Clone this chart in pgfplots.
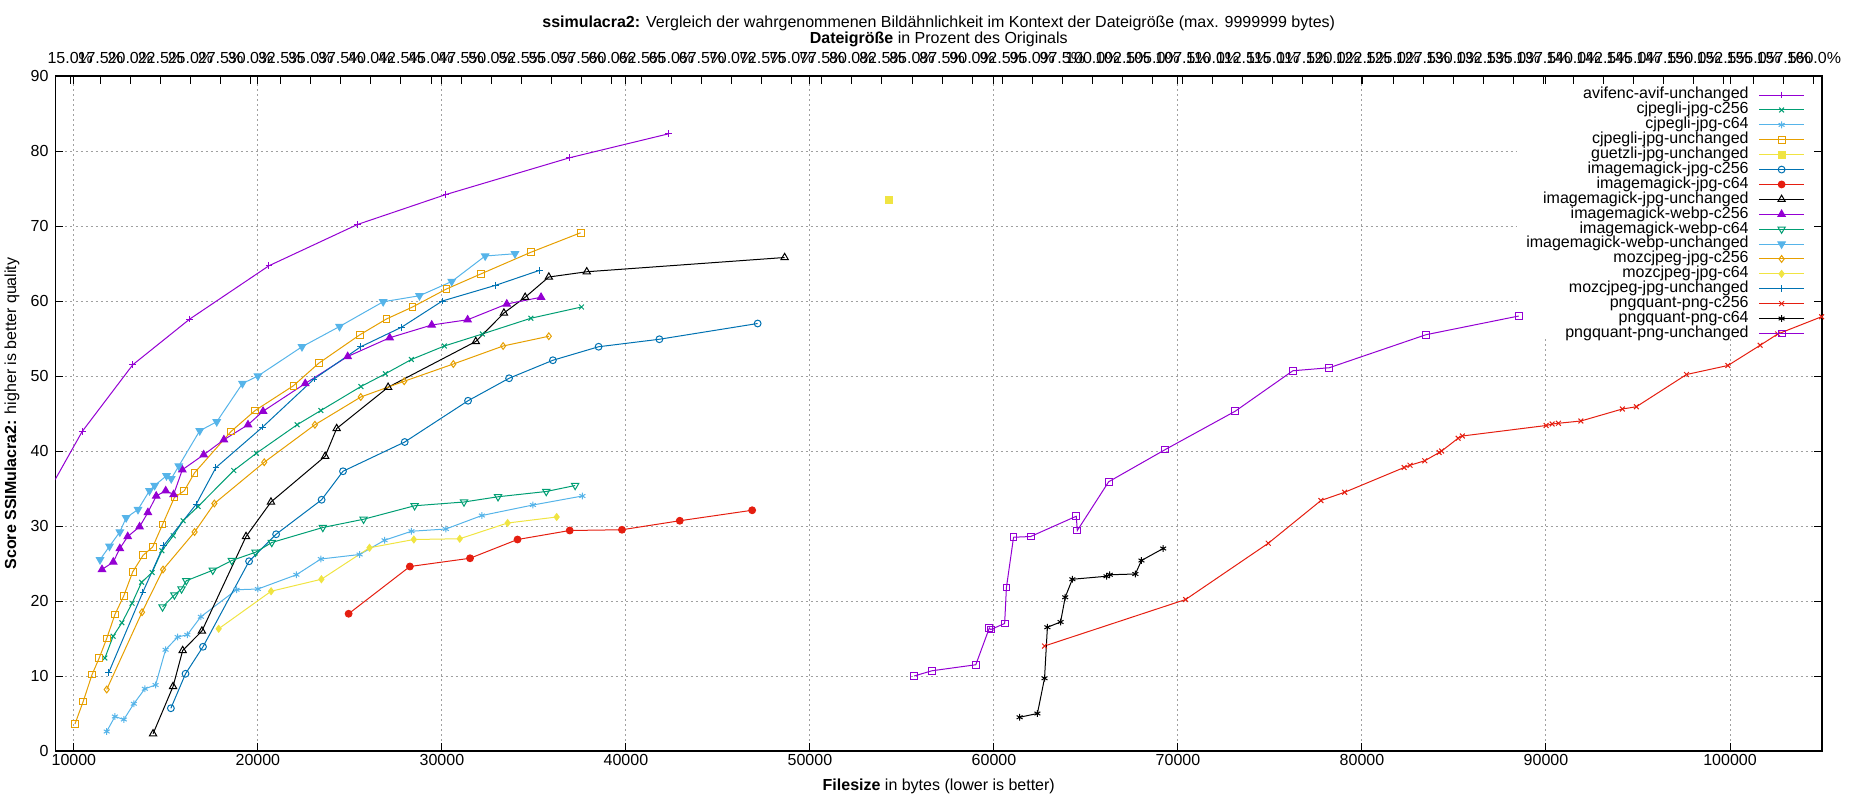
\documentclass[border=0pt]{standalone}
\usepackage{fontspec}
\setmainfont{Liberation Sans}
\usepackage{pgfplots}
\pgfplotsset{compat=1.18}
\definecolor{gpurple}{HTML}{9400D3}
\definecolor{ggreen}{HTML}{009E73}
\definecolor{gsky}{HTML}{56B4E9}
\definecolor{gorange}{HTML}{E69F00}
\definecolor{gyellow}{HTML}{F0E442}
\definecolor{gblue}{HTML}{0072B2}
\definecolor{gred}{HTML}{E51E10}
\definecolor{ggrid}{HTML}{A0A0A0}
\pgfplotsset{/pgf/number format/assume math mode=true}
\begin{document}
\begin{tikzpicture}[font=\fontsize{8}{9.6}\selectfont]
\begin{axis}[
  set layers,
  width=883.25pt, height=337.5pt, scale only axis,
  xmin=9000, xmax=105000, ymin=0, ymax=90,
  xtick={10000,20000,...,100000}, ytick={0,10,...,90},
  scaled x ticks=false,
  xticklabel style={/pgf/number format/.cd, fixed, 1000 sep={}, /tikz/.cd, yshift=2pt},
  tick align=inside, major tick length=4pt,
  tick style={black, line width=0.5pt},
  axis line style={line width=0.6pt},
  grid=major, grid style={dash pattern=on 1pt off 1.5pt, color=ggrid, line width=0.5pt},
  xlabel={\textbf{Filesize} in bytes (lower is better)},
  ylabel={\textbf{Score SSIMulacra2:} higher is better quality},
  xlabel style={at={(axis description cs:0.5,-0.0519)}, anchor=center},
  ylabel style={at={(axis description cs:-0.0246,0.5)}, anchor=center},
  every axis plot/.append style={line width=0.5pt, mark size=1.7pt, mark options={solid}},
  legend cell align=right, legend plot pos=right,
  legend image code/.code={\draw[mark repeat=2,mark phase=2,#1] plot coordinates {(0pt,0pt) (11.25pt,0pt) (22.5pt,0pt)};},
  legend style={at={(rel axis cs:1,1)}, anchor=north east, xshift=-8.5pt, yshift=-5.6pt,
    draw=none, fill=none, inner sep=0pt, row sep=0pt, column sep=5pt,
    nodes={inner sep=0pt, text height=5.65pt, text depth=1.8pt}},
]
\begin{pgfonlayer}{pre main}
\fill[white] (axis cs:88450,54.9) rectangle (axis cs:104560,88.9);
\end{pgfonlayer}
\addplot[gpurple, mark=+] coordinates {
 (8800,35.4) (10450,42.6) (13200,51.5) (16300,57.6) (20600,64.7) (25410,70.2)
 (30220,74.2) (36940,79.1) (42330,82.3)};
\addlegendentry{avifenc-avif-unchanged}
\addplot[ggreen, mark=x] coordinates {
 (11686,12.4) (12132,15.3) (12610,17.1) (13160,19.7) (13680,22.5) (14250,23.8)
 (14780,26.7) (15398,28.7) (15935,30.7) (16750,32.6) (18688,37.4) (19914,39.7)
 (22129,43.5) (23420,45.4) (25600,48.6) (26930,50.3) (28337,52.2) (30133,54.0)
 (32195,55.6) (34834,57.7) (37583,59.2)};
\addlegendentry{cjpegli-jpg-c256}
\addplot[gsky, mark=asterisk] coordinates {
 (11783,2.6) (12229,4.6) (12713,4.2) (13256,6.3) (13857,8.3) (14438,8.8)
 (14981,13.5) (15640,15.2) (16163,15.5) (16899,17.9) (18837,21.5) (20000,21.6)
 (22093,23.5) (23420,25.6) (25527,26.2) (26882,28.1) (28344,29.3) (30215,29.6)
 (32172,31.4) (34946,32.8) (37634,34.0)};
\addlegendentry{cjpegli-jpg-c64}
\addplot[gorange, mark=square] coordinates {
 (10058,3.6) (10504,6.6) (10988,10.2) (11376,12.4) (11783,15.0) (12229,18.2)
 (12713,20.7) (13198,23.9) (13763,26.1) (14280,27.2) (14817,30.2) (15462,33.8)
 (15999,34.7) (16559,37.1) (18538,42.6) (19849,45.4) (21929,48.7) (23304,51.7)
 (25543,55.5) (26984,57.6) (28404,59.2) (30244,61.6) (32106,63.6) (34834,66.5)
 (37539,69.1)};
\addlegendentry{cjpegli-jpg-unchanged}
\addplot[gyellow, mark=square*] coordinates {(54300,73.5)};
\addlegendentry{guetzli-jpg-unchanged}
\addplot[gblue, mark=o] coordinates {
 (15271,5.7) (16066,10.3) (17016,13.9) (19520,25.3) (20989,28.9) (23462,33.5)
 (24624,37.3) (27978,41.2) (31419,46.7) (33650,49.7) (36031,52.1) (38514,53.9)
 (41818,54.9) (47158,57.0)};
\addlegendentry{imagemagick-jpg-c256}
\addplot[gred, mark=*] coordinates {
 (24930,18.3) (28258,24.6) (31527,25.7) (34108,28.2) (36946,29.4) (39785,29.5)
 (42925,30.7) (46860,32.1)};
\addlegendentry{imagemagick-jpg-c64}
\addplot[black, mark=triangle, mark size=2.1pt] coordinates {
 (14302,2.3) (15388,8.6) (15911,13.4) (16957,16.0) (19355,28.6) (20710,33.2)
 (23656,39.3) (24280,43.0) (27075,48.5) (31840,54.6) (33370,58.4) (34523,60.5)
 (35809,63.2) (37871,63.9) (48624,65.8)};
\addlegendentry{imagemagick-jpg-unchanged}
\addplot[gpurple, mark=triangle*, mark size=2.1pt] coordinates {
 (11527,24.2) (12140,25.2) (12495,27.0) (12925,28.6) (13570,29.9) (14022,31.8)
 (14473,34.0) (14989,34.7) (15419,34.2) (15892,37.5) (17054,39.5) (18151,41.5)
 (19462,43.5) (20280,45.3) (22572,49.0) (24878,52.6) (27162,55.1) (29446,56.8)
 (31397,57.5) (33525,59.6) (35388,60.5)};
\addlegendentry{imagemagick-webp-c256}
\addplot[ggreen, mark=triangle, mark size=2.1pt, mark options={solid, rotate=180}] coordinates {
 (14817,19.2) (15462,20.8) (15849,21.6) (16107,22.7) (17548,24.1) (18581,25.4)
 (19871,26.5) (20753,27.8) (23527,29.8) (25742,30.9) (28516,32.7) (31200,33.2)
 (33050,33.9) (35670,34.6) (37240,35.4)};
\addlegendentry{imagemagick-webp-c64}
\addplot[gsky, mark=triangle*, mark size=2.1pt, mark options={solid, rotate=180}] coordinates {
 (11419,25.5) (11935,27.3) (12495,29.2) (12839,31.1) (13484,32.2) (14108,34.7)
 (14387,35.4) (15032,36.7) (15290,36.3) (15699,38.0) (16839,42.7) (17763,43.9)
 (19161,49.0) (20000,50.0) (22395,53.9) (24435,56.6) (26807,59.9) (28780,60.7)
 (30532,62.6) (32350,66.0) (33969,66.3)};
\addlegendentry{imagemagick-webp-unchanged}
\addplot[gorange, mark=diamond] coordinates {
 (11783,8.2) (13702,18.5) (14845,24.2) (16559,29.2) (17634,33.0) (20344,38.5)
 (23097,43.5) (25591,47.2) (27950,49.3) (30621,51.6) (33326,54.0) (35809,55.3)};
\addlegendentry{mozcjpeg-jpg-c256}
\addplot[gyellow, mark=diamond*] coordinates {
 (17868,16.3) (20717,21.3) (23450,22.9) (26065,27.1) (28473,28.2) (30968,28.3)
 (33570,30.4) (36237,31.2)};
\addlegendentry{mozcjpeg-jpg-c64}
\addplot[gblue, mark=+] coordinates {
 (11899,10.5) (13750,21.2) (14882,27.4) (16645,32.9) (17720,37.8) (20258,43.2)
 (23050,49.6) (25588,53.9) (27805,56.5) (30022,60.0) (32927,62.1) (35322,64.1)};
\addlegendentry{mozcjpeg-jpg-unchanged}
\addplot[gred, mark=x] coordinates {
 (62749,14.0) (70416,20.2) (74908,27.7) (77770,33.4) (79060,34.5) (82290,37.8)
 (82612,38.1) (83413,38.7) (84195,39.8) (84328,40.0) (85224,41.7) (85453,42.0)
 (90010,43.4) (90334,43.6) (90677,43.7) (91897,44.0) (94147,45.6) (94909,45.9)
 (97636,50.2) (99886,51.4) (101640,54.1) (102593,55.6) (104976,57.9)};
\addlegendentry{pngquant-png-c256}
\addplot[black, mark=asterisk] coordinates {
 (61394,4.5) (62362,5.0) (62749,9.7) (62904,16.5) (63620,17.2) (63872,20.5)
 (64259,22.9) (66118,23.3) (66292,23.5) (67686,23.6) (68015,25.4) (69197,27.0)};
\addlegendentry{pngquant-png-c64}
\addplot[gpurple, mark=square] coordinates {
 (55663,10.0) (56631,10.7) (59013,11.5) (59748,16.4) (59826,16.2) (60581,17.0)
 (60678,21.8) (61065,28.5) (61994,28.6) (64472,31.3) (64530,29.4) (66234,35.9)
 (69313,40.2) (73107,45.3) (76244,50.7) (78219,51.1) (83470,55.5) (88522,58.0)};
\addlegendentry{pngquant-png-unchanged}
\end{axis}
\begin{axis}[
  width=883.25pt, height=337.5pt, scale only axis,
  xmin=13.772, xmax=160.673, ymin=0, ymax=90,
  axis x line*=top, hide y axis,
  xtick={15,17.5,20,22.5,25,27.5,30,32.5,35,37.5,40,42.5,45,47.5,50,52.5,55,57.5,
    60,62.5,65,67.5,70,72.5,75,77.5,80,82.5,85,87.5,90,92.5,95,97.5,100,102.5,105,
    107.5,110,112.5,115,117.5,120,122.5,125,127.5,130,132.5,135,137.5,140,142.5,
    145,147.5,150,152.5,155,157.5,160},
  xticklabels={15.0\%,17.5\%,20.0\%,22.5\%,25.0\%,27.5\%,30.0\%,32.5\%,35.0\%,37.5\%,
    40.0\%,42.5\%,45.0\%,47.5\%,50.0\%,52.5\%,55.0\%,57.5\%,60.0\%,62.5\%,65.0\%,
    67.5\%,70.0\%,72.5\%,75.0\%,77.5\%,80.0\%,82.5\%,85.0\%,87.5\%,90.0\%,92.5\%,
    95.0\%,97.5\%,100.0\%,102.5\%,105.0\%,107.5\%,110.0\%,112.5\%,115.0\%,117.5\%,
    120.0\%,122.5\%,125.0\%,127.5\%,130.0\%,132.5\%,135.0\%,137.5\%,140.0\%,
    142.5\%,145.0\%,147.5\%,150.0\%,152.5\%,155.0\%,157.5\%,160.0\%},
  xticklabel style={yshift=2.4pt},
  tick align=inside, major tick length=4pt,
  tick style={black, line width=0.5pt},
  axis line style={line width=0.6pt},
  xlabel={\textbf{Dateigröße} in Prozent des Originals},
  xlabel style={at={(axis description cs:0.5,1.054)}, anchor=center},
  title={\textbf{ssimulacra2:} Vergleich der wahrgenommenen Bildähnlichkeit im Kontext der Dateigröße (max. 9999999 bytes)},
  title style={at={(axis description cs:0.5,1.0608)}, anchor=center, yshift=0pt},
]
\end{axis}
\pgfresetboundingbox
\path[use as bounding box] (-27.75pt,-24.5pt) rectangle (897.25pt,375.5pt);
\end{tikzpicture}
\end{document}
